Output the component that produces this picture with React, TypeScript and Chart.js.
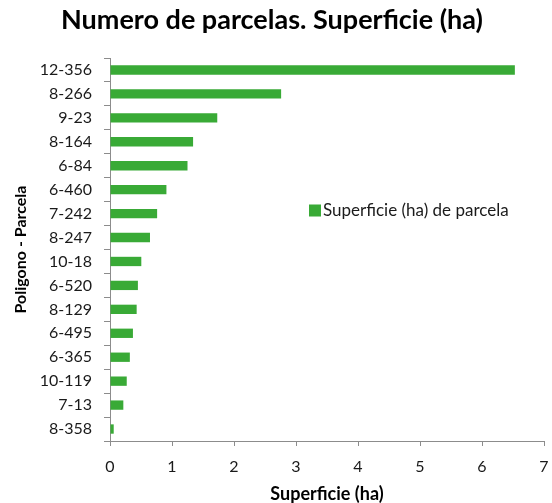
import React, { useEffect, useRef } from "react";
import { Chart, registerables } from "chart.js";

Chart.register(...registerables);

const categories = [
  "12-356", "8-266", "9-23", "8-164", "6-84", "6-460", "7-242", "8-247",
  "10-18", "6-520", "8-129", "6-495", "6-365", "10-119", "7-13", "8-358",
];
const superficie = [
  6.53, 2.76, 1.73, 1.34, 1.25, 0.91, 0.76, 0.645,
  0.505, 0.45, 0.43, 0.37, 0.32, 0.27, 0.215, 0.06,
];
const xTicks = [0, 1, 2, 3, 4, 5, 6, 7];
const seriesLabel = "Superficie (ha) de parcela";
const titleText = "Numero de parcelas. Superficie (ha)";
const xTitle = "Superficie (ha)";
const yTitle = "Poligono - Parcela";

const GREEN = "#39aa36";
const FONT = "Lato, 'Noto Sans', sans-serif";

const innerLegend = {
  id: "innerLegend",
  afterDraw(chart: any) {
    const { ctx, chartArea } = chart;
    const ds = chart.data.datasets[0];
    const x = chartArea.left + 199;
    const y = chartArea.top + 152.5;
    ctx.save();
    ctx.fillStyle = ds.backgroundColor;
    ctx.fillRect(x, y - 6, 12, 12);
    ctx.fillStyle = "#1a1a1a";
    ctx.font = `17px ${FONT}`;
    ctx.textBaseline = "middle";
    ctx.textAlign = "left";
    ctx.fillText(ds.label, x + 14, y);
    ctx.restore();
  },
};

export default function App() {
  const ref = useRef<HTMLCanvasElement | null>(null);
  useEffect(() => {
    if (!ref.current) return;
    const chart = new Chart(ref.current, {
      type: "bar",
      data: {
        labels: categories,
        datasets: [
          {
            label: seriesLabel,
            data: superficie,
            backgroundColor: GREEN,
            borderWidth: 0,
            categoryPercentage: 1,
            barPercentage: 0.39,
          },
        ],
      },
      options: {
        indexAxis: "y",
        animation: false,
        responsive: false,
        maintainAspectRatio: false,
        layout: { padding: { left: 0, right: 8, top: 0, bottom: 0 } },
        plugins: {
          legend: { display: false },
          tooltip: { enabled: false },
          title: {
            display: true,
            text: titleText,
            color: "#000",
            font: { family: FONT, size: 27, weight: "bold" },
            padding: { top: 4, bottom: 21.6 },
          },
        },
        scales: {
          x: {
            min: 0,
            max: 7,
            afterFit: (s: any) => { s.height = 62; s.paddingRight = 0; },
            afterBuildTicks: (s: any) => { s.ticks = xTicks.map((v) => ({ value: v })); },
            grid: {
              display: true,
              drawOnChartArea: false,
              drawTicks: true,
              tickLength: 5,
              color: "#8c8c8c",
            },
            border: { display: true, color: "#8c8c8c", width: 1 },
            ticks: {
              color: "#1a1a1a",
              font: { family: FONT, size: 16 },
              padding: 11,
              maxRotation: 0,
            },
            title: {
              display: true,
              text: xTitle,
              color: "#000",
              font: { family: FONT, size: 18, weight: "bold", lineHeight: 1 },
              padding: { top: 0, bottom: 0 },
            },
          },
          y: {
            afterFit: (s: any) => { s.width = 110; },
            grid: {
              display: true,
              drawOnChartArea: false,
              drawTicks: true,
              tickLength: 6,
              offset: true,
              color: "#8c8c8c",
            },
            border: { display: true, color: "#8c8c8c", width: 1 },
            ticks: {
              color: "#1a1a1a",
              font: { family: FONT, size: 16 },
              padding: 12,
              autoSkip: false,
            },
            title: {
              display: true,
              text: yTitle,
              color: "#000",
              font: { family: FONT, size: 16, weight: "bold" },
              padding: { top: 11, bottom: 0 },
            },
          },
        },
      },
      plugins: [innerLegend],
    });
    return () => chart.destroy();
  }, []);
  return (
    <div style={{ position: "absolute", left: 0, top: 0, width: 552, height: 503, background: "#fff" }}>
      <canvas ref={ref} width={552} height={503} style={{ display: "block" }} />
    </div>
  );
}
